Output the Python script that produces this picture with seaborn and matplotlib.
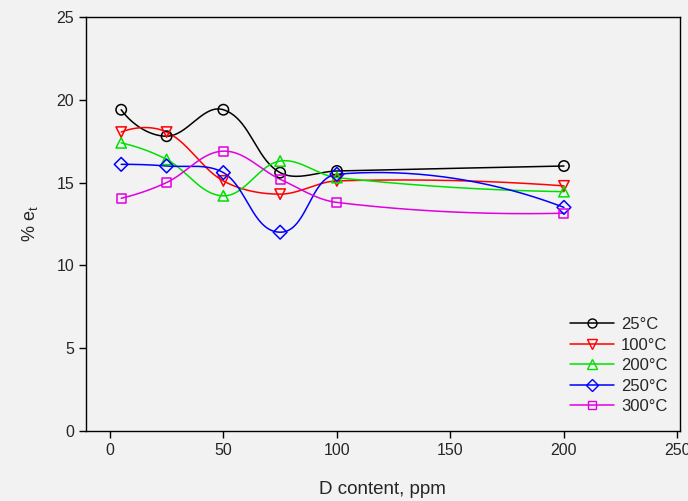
import numpy as np
import pandas as pd
import matplotlib
matplotlib.use("Agg")
import matplotlib.pyplot as plt
import seaborn as sns
from matplotlib.lines import Line2D

x_ppm = [5, 25, 50, 75, 100, 200]
labels = ["25°C", "100°C", "200°C", "250°C", "300°C"]
e25 = [19.4, 17.8, 19.4, 15.6, 15.7, 16.0]
e100 = [18.05, 18.05, 15.1, 14.3, 15.1, 14.8]
e200 = [17.4, 16.4, 14.2, 16.3, 15.3, 14.45]
e250 = [16.1, 16.0, 15.6, 12.0, 15.5, 13.5]
e300 = [14.05, 15.0, 16.9, 15.2, 13.8, 13.15]
series = [e25, e100, e200, e250, e300]

colors = ["#000000", "#ff0000", "#00e000", "#0000ff", "#e000e0"]
markers = ["o", "v", "^", "D", "s"]
msizes = [7.5, 7.5, 7.5, 7, 6.5]


def smooth_curve(x, y, sx=2.275, sy=16.56, n=60):
    # chord-length Hermite curve through the points (screen-like units)
    P = np.column_stack([np.asarray(x, float) * sx, np.asarray(y, float) * sy])
    k = len(P)
    L = np.hypot(*np.diff(P, axis=0).T)
    U = np.zeros_like(P)
    for i in range(1, k - 1):
        v = P[i + 1] - P[i - 1]
        U[i] = v / np.hypot(*v)
    c0 = (P[1] - P[0]) / L[0]
    v = 2 * c0 - U[1]; U[0] = v / np.hypot(*v)
    c1 = (P[-1] - P[-2]) / L[-1]
    v = 2 * c1 - U[-2]; U[-1] = v / np.hypot(*v)
    out = []
    s = np.linspace(0, 1, n)[:, None]
    h00 = 2 * s**3 - 3 * s**2 + 1; h10 = s**3 - 2 * s**2 + s
    h01 = -2 * s**3 + 3 * s**2; h11 = s**3 - s**2
    for i in range(k - 1):
        seg = h00 * P[i] + h10 * U[i] * L[i] + h01 * P[i + 1] + h11 * U[i + 1] * L[i]
        out.append(seg if i == 0 else seg[1:])
    C = np.vstack(out)
    return C[:, 0] / sx, C[:, 1] / sy


sns.set_style("ticks")
plt.rcParams["font.family"] = ["Liberation Sans", "DejaVu Sans"]
plt.rcParams["mathtext.fontset"] = "custom"
plt.rcParams["mathtext.rm"] = "Liberation Sans"
plt.rcParams["mathtext.it"] = "Liberation Sans"

bg = "#f2f2f2"
fig = plt.figure(figsize=(6.88, 5.01), dpi=100, facecolor=bg)
ax = fig.add_axes([0.125, 0.140, 0.863, 0.826])
ax.set_facecolor(bg)

handles = []
for lab, ys, c, m, ms in zip(labels, series, colors, markers, msizes):
    cx, cy = smooth_curve(x_ppm, ys)
    ax.plot(cx, cy, color=c, lw=1.1, zorder=2)
    df = pd.DataFrame({"x": x_ppm, "y": ys})
    sns.scatterplot(data=df, x="x", y="y", ax=ax, marker=m, s=ms**2,
                    facecolors="none", edgecolor=c, linewidth=1.1, zorder=3)
    handles.append(Line2D([], [], color=c, lw=1.1, marker=m, markersize=ms - 1,
                          markerfacecolor="none", markeredgecolor=c, label=lab))

ax.set_xlim(-10.5, 251)
ax.set_ylim(0, 25)
ax.set_xticks([0, 50, 100, 150, 200, 250])
ax.set_yticks([0, 5, 10, 15, 20, 25])
ax.tick_params(labelsize=11.5, length=5, width=1, direction="out", color="#000000")
for s in ax.spines.values():
    s.set_linewidth(1.0); s.set_color("#000000")
ax.set_xlabel("D content, ppm", fontsize=13.5, labelpad=17)
ax.set_ylabel("% e$_t$", fontsize=13, labelpad=12)

leg = ax.legend(handles=handles, loc="lower right", frameon=False, fontsize=12,
                handlelength=2.6, handletextpad=0.45, labelspacing=0.33,
                bbox_to_anchor=(1.005, 0.004))

fig.savefig("out.png", dpi=100, facecolor=bg)
